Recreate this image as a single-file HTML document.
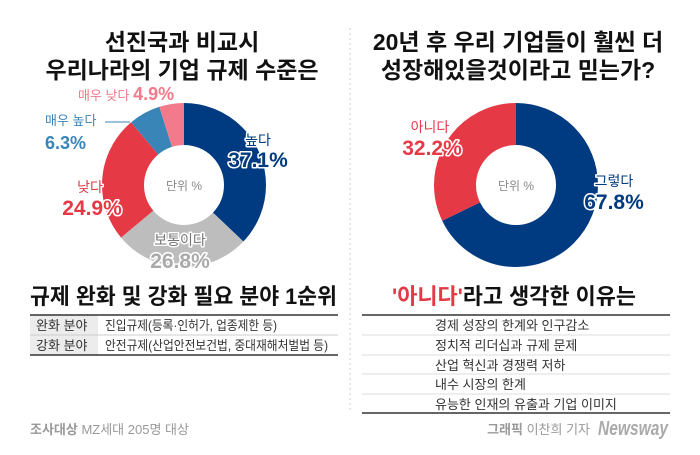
<!DOCTYPE html>
<html><head><meta charset="utf-8"><style>
body{margin:0;background:#fff;}
svg text{font-family:"Liberation Sans","Noto Sans CJK KR",sans-serif;}
</style></head><body>
<svg width="700" height="450" viewBox="0 0 700 450" xmlns="http://www.w3.org/2000/svg">
<rect width="700" height="450" fill="#fff"/>
<line x1="350" y1="28" x2="350" y2="412" stroke="#ccc" stroke-width="1" stroke-dasharray="2,3"/>
<g font-weight="bold" font-size="23" fill="#111" text-anchor="middle">
<text x="182" y="50">선진국과 비교시</text>
<text x="182" y="78">우리나라의 기업 규제 수준은</text>
<text x="518" y="50">20년 후 우리 기업들이 훨씬 더</text>
<text x="518" y="78">성장해있을것이라고 믿는가?</text>
</g>
<g transform="rotate(-90 184 185)" fill="none" stroke-width="42">
<circle cx="184" cy="185" r="61" stroke="#003a80" stroke-dasharray="142.19 400" stroke-dashoffset="0"/>
<circle cx="184" cy="185" r="61" stroke="#bdbdbd" stroke-dasharray="102.72 400" stroke-dashoffset="-142.19"/>
<circle cx="184" cy="185" r="61" stroke="#e63946" stroke-dasharray="95.43 400" stroke-dashoffset="-244.91"/>
<circle cx="184" cy="185" r="61" stroke="#3a85b8" stroke-dasharray="24.15 400" stroke-dashoffset="-340.34"/>
<circle cx="184" cy="185" r="61" stroke="#f27a8a" stroke-dasharray="18.78 400" stroke-dashoffset="-364.49"/>
</g>
<line x1="105" y1="122" x2="130" y2="122" stroke="#3a85b8" stroke-width="1"/>
<text x="184" y="190" text-anchor="middle" font-size="12" fill="#888">단위 %</text>
<g text-anchor="middle" font-weight="bold" stroke="#fff" stroke-width="3" paint-order="stroke" stroke-linejoin="round">
<text x="258" y="145" font-size="14" font-weight="normal" fill="#003a80">높다</text>
<text x="258" y="167" font-size="21" fill="#003a80">37.1%</text>
<text x="180" y="245" font-size="14" font-weight="normal" fill="#777">보통이다</text>
<text x="180" y="268" font-size="21" fill="#aaa">26.8%</text>
<text x="90" y="192" font-size="14" font-weight="normal" fill="#e63946">낮다</text>
<text x="92" y="215" font-size="21" fill="#e63946">24.9%</text>
</g>
<text x="78" y="100" font-size="13" fill="#f27a8a">매우 낮다 <tspan font-size="18" font-weight="bold">4.9%</tspan></text>
<text x="45" y="125" font-size="13" fill="#3a85b8">매우 높다</text>
<text x="45" y="149" font-size="18" font-weight="bold" fill="#3a85b8">6.3%</text>
<g transform="rotate(-90 516 185)" fill="none" stroke-width="42">
<circle cx="516" cy="185" r="61" stroke="#003a80" stroke-dasharray="259.86 400" stroke-dashoffset="0"/>
<circle cx="516" cy="185" r="61" stroke="#e63946" stroke-dasharray="123.41 400" stroke-dashoffset="-259.86"/>
</g>
<text x="516" y="190" text-anchor="middle" font-size="12" fill="#888">단위 %</text>
<g text-anchor="middle" font-weight="bold" stroke="#fff" stroke-width="3" paint-order="stroke" stroke-linejoin="round">
<text x="430" y="132" font-size="14" font-weight="normal" fill="#e63946">아니다</text>
<text x="432" y="155" font-size="21" fill="#e63946">32.2%</text>
<text x="614" y="186" font-size="14" font-weight="normal" fill="#003a80">그렇다</text>
<text x="614" y="209" font-size="21" fill="#003a80">67.8%</text>
</g>
<text x="30" y="304" font-size="22" font-weight="bold" fill="#111" textLength="307" lengthAdjust="spacingAndGlyphs">규제 완화 및 강화 필요 분야 1순위</text>
<rect x="30" y="315" width="68" height="40" fill="#ececec"/>
<line x1="30" y1="315" x2="338" y2="315" stroke="#333" stroke-width="1.5"/>
<line x1="30" y1="335" x2="338" y2="335" stroke="#ccc" stroke-width="1"/>
<line x1="30" y1="355" x2="338" y2="355" stroke="#333" stroke-width="1.5"/>
<g font-size="13" fill="#333">
<text x="36" y="330">완화 분야</text>
<text x="105" y="330" textLength="172" lengthAdjust="spacingAndGlyphs">진입규제(등록·인허가, 업종제한 등)</text>
<text x="36" y="350">강화 분야</text>
<text x="105" y="350" textLength="223" lengthAdjust="spacingAndGlyphs">안전규제(산업안전보건법, 중대재해처벌법 등)</text>
</g>
<text x="514" y="304" text-anchor="middle" font-size="22" font-weight="bold" fill="#111" textLength="244" lengthAdjust="spacingAndGlyphs"><tspan fill="#e63946">'아니다'</tspan>라고 생각한 이유는</text>
<line x1="362" y1="315" x2="670" y2="315" stroke="#333" stroke-width="1.5"/>
<g stroke="#ddd" stroke-width="1">
<line x1="362" y1="335" x2="670" y2="335"/>
<line x1="362" y1="355" x2="670" y2="355"/>
<line x1="362" y1="374" x2="670" y2="374"/>
<line x1="362" y1="394" x2="670" y2="394"/>
</g>
<line x1="362" y1="413" x2="670" y2="413" stroke="#333" stroke-width="1.5"/>
<g font-size="13" fill="#333">
<text x="435" y="330">경제 성장의 한계와 인구감소</text>
<text x="435" y="350">정치적 리더십과 규제 문제</text>
<text x="435" y="370">산업 혁신과 경쟁력 저하</text>
<text x="435" y="389">내수 시장의 한계</text>
<text x="435" y="409">유능한 인재의 유출과 기업 이미지</text>
</g>
<text x="30" y="434" font-size="13" fill="#999"><tspan font-weight="bold">조사대상</tspan> MZ세대 205명 대상</text>
<text x="590" y="434" text-anchor="end" font-size="13" fill="#999"><tspan font-weight="bold">그래픽</tspan> 이찬희 기자</text>
<text x="598" y="435" font-size="20" font-style="italic" font-weight="bold" fill="#aaa" font-family="Liberation Serif, serif" textLength="70" lengthAdjust="spacingAndGlyphs">Newsway</text>
</svg>
</body></html>
